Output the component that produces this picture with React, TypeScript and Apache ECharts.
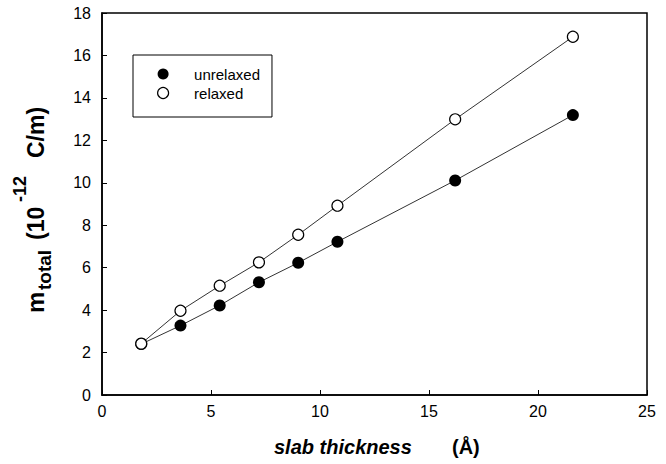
import React, { useEffect, useRef } from "react";
import * as echarts from "echarts";

const thickness = [1.8, 3.6, 5.4, 7.2, 9.0, 10.8, 16.2, 21.6];
const unrelaxed = [2.4, 3.27, 4.22, 5.31, 6.23, 7.22, 10.11, 13.19];
const relaxed = [2.42, 3.97, 5.15, 6.25, 7.55, 8.92, 12.99, 16.88];
const seriesNames = ["unrelaxed", "relaxed"];

const FONT = "Liberation Sans, Arial, sans-serif";

export default function App() {
  const ref = useRef<HTMLDivElement>(null);
  useEffect(() => {
    if (!ref.current) return;
    const chart = echarts.init(ref.current, undefined, { renderer: "svg" });
    const toPts = (ys: number[]) => thickness.map((x, i) => [x, ys[i]]);
    chart.setOption({
      animation: false,
      backgroundColor: "#fff",
      grid: {
        left: 102,
        right: 19,
        top: 13,
        bottom: 69,
        show: true,
        borderColor: "#000",
        borderWidth: 1.5,
      },
      xAxis: {
        type: "value",
        min: 0,
        max: 25,
        interval: 5,
        axisLine: { show: true, lineStyle: { color: "#000", width: 1.5 } },
        axisTick: { show: true, inside: true, length: 5, lineStyle: { color: "#000" } },
        splitLine: { show: false },
        axisLabel: { color: "#000", fontSize: 16, fontFamily: FONT, margin: 8 },
      },
      yAxis: {
        type: "value",
        min: 0,
        max: 18,
        interval: 2,
        axisLine: { show: true, lineStyle: { color: "#000", width: 1.5 } },
        axisTick: { show: true, inside: true, length: 5, lineStyle: { color: "#000" } },
        splitLine: { show: false },
        axisLabel: { color: "#000", fontSize: 16, fontFamily: FONT, margin: 11 },
      },
      legend: {
        orient: "vertical",
        left: 133,
        top: 55,
        borderColor: "#000",
        borderWidth: 1,
        borderRadius: 0,
        padding: [11, 12, 16, 24],
        itemGap: 3,
        itemWidth: 12,
        itemHeight: 11,
        textStyle: { color: "#000", fontSize: 15, fontFamily: FONT, padding: [0, 0, 0, 20], lineHeight: 16 },
        data: [
          { name: seriesNames[0], icon: "circle", itemStyle: { color: "#000", borderWidth: 0 } },
          {
            name: seriesNames[1],
            icon: "circle",
            itemStyle: { color: "#fff", borderColor: "#000", borderWidth: 1.2 },
          },
        ],
      },
      graphic: [
        {
          type: "group",
          x: 47,
          y: 313,
          rotation: Math.PI / 2,
          children: [
            {
              type: "text",
              x: 0,
              y: 0,
              style: { text: "m", font: `bold 24px ${FONT}`, fill: "#000", textVerticalAlign: "bottom" },
            },
            {
              type: "text",
              x: 23,
              y: 7,
              style: { text: "total", font: `bold 19px ${FONT}`, fill: "#000", textVerticalAlign: "bottom" },
            },
            {
              type: "text",
              x: 73,
              y: 0,
              style: { text: "(10", font: `bold 23px ${FONT}`, fill: "#000", textVerticalAlign: "bottom" },
            },
            {
              type: "text",
              x: 111,
              y: -18,
              style: { text: "-12", font: `bold 18px ${FONT}`, fill: "#000", textVerticalAlign: "bottom" },
            },
            {
              type: "text",
              x: 155,
              y: 0,
              style: { text: "C/m)", font: `bold 23px ${FONT}`, fill: "#000", textVerticalAlign: "bottom" },
            },
          ],
        },
        {
          type: "text",
          x: 274,
          y: 447,
          style: {
            text: "slab thickness",
            font: `italic bold 20px ${FONT}`,
            fill: "#000",
            textVerticalAlign: "middle",
          },
        },
        {
          type: "text",
          x: 452,
          y: 447,
          style: { text: "(Å)", font: `bold 20px ${FONT}`, fill: "#000", textVerticalAlign: "middle" },
        },
      ],
      series: [
        {
          name: seriesNames[0],
          type: "line",
          data: toPts(unrelaxed),
          symbol: "circle",
          symbolSize: 12,
          lineStyle: { color: "#333", width: 1 },
          itemStyle: { color: "#000", borderWidth: 0 },
          z: 2,
        },
        {
          name: seriesNames[1],
          type: "line",
          data: toPts(relaxed),
          symbol: "circle",
          symbolSize: 11,
          lineStyle: { color: "#333", width: 1 },
          itemStyle: { color: "#fff", borderColor: "#000", borderWidth: 1.2 },
          z: 3,
        },
      ],
    });
    return () => chart.dispose();
  }, []);
  return <div ref={ref} style={{ width: 666, height: 464, position: "absolute", left: 0, top: 0 }} />;
}
